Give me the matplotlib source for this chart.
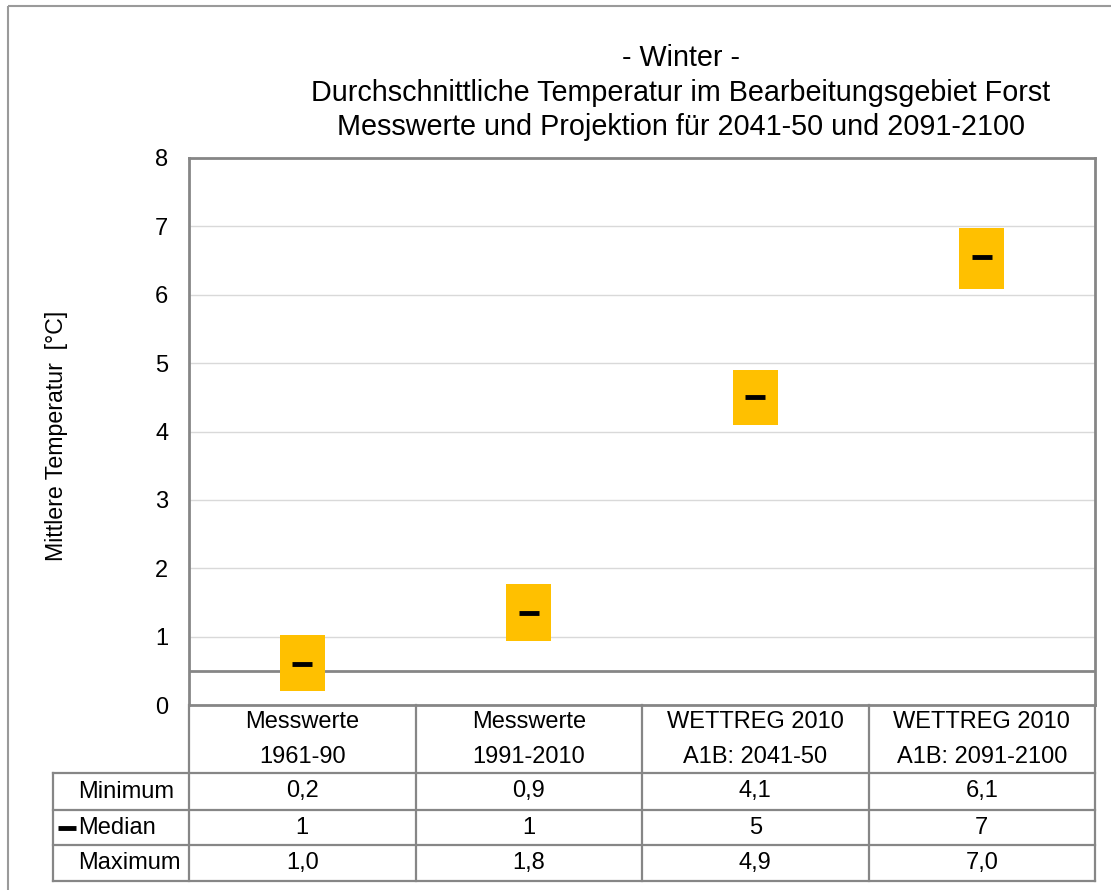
import numpy as np
import matplotlib.pyplot as plt
from matplotlib.patches import Rectangle

plt.rcParams['font.family'] = ['Liberation Sans', 'DejaVu Sans']

categories = ["Messwerte\n1961-90", "Messwerte\n1991-2010",
              "WETTREG 2010\nA1B: 2041-50", "WETTREG 2010\nA1B: 2091-2100"]
t_min = [0.2, 0.94, 4.1, 6.08]
t_median = [0.6, 1.35, 4.5, 6.55]
t_max = [1.02, 1.77, 4.9, 6.98]
min_labels = ["0,2", "0,9", "4,1", "6,1"]
median_labels = ["1", "1", "5", "7"]
max_labels = ["1,0", "1,8", "4,9", "7,0"]
axis_line = 0.5

W, H = 1111, 890
fig = plt.figure(figsize=(W / 100, H / 100), dpi=100)

# plot area in pixels
L, R, T, B = 189, 1095, 158, 705
ax = fig.add_axes([L / W, 1 - B / H, (R - L) / W, (B - T) / H])

x = np.arange(len(categories))
ax.bar(x, np.array(t_max) - np.array(t_min), bottom=t_min, width=0.2,
       color="#FFC000", zorder=3)
ax.plot(x, t_median, ls="none", marker="_", ms=15, mew=3.5, color="black", zorder=4)
ax.axhline(axis_line, color="#868686", lw=2, zorder=2)

ax.set_xlim(-0.5, 3.5)
ax.set_ylim(0, 8)
ax.set_yticks(range(9))
ax.set_xticks([])
ax.tick_params(axis="y", length=0, pad=15, labelsize=17)
ax.grid(axis="y", color="#D9D9D9", lw=1, zorder=0)
for s in ax.spines.values():
    s.set_color("#868686")
    s.set_linewidth(2)

# overlay in pixel coordinates for title, frame and data table
ov = fig.add_axes([0, 0, 1, 1], facecolor="none")
ov.set_xlim(0, W)
ov.set_ylim(H, 0)
ov.axis("off")

ov.add_patch(Rectangle((8, 6), W + 20, H + 20, fill=False, ec="#9a9a9a", lw=1.5))

for yy, txt in zip([58, 93, 127], ["- Winter -",
                                   "Durchschnittliche Temperatur im Bearbeitungsgebiet Forst",
                                   "Messwerte und Projektion für 2041-50 und 2091-2100"]):
    ov.text(681, yy, txt, ha="center", va="center", fontsize=20.7)

ov.text(57, 436, "Mittlere Temperatur  [°C]", rotation=90, ha="center", va="center",
        fontsize=16.7)

# table
gc = "#868686"
col_x = [ax.transData.transform((xx, 0))[0] for xx in np.arange(-0.5, 4, 1)]
rows_y = [B, 773, 810, 845, 881]
lab_x0 = 53
fs = 17
for cx in col_x:
    ov.plot([cx, cx], [B, rows_y[-1]], color=gc, lw=1.6)
ov.plot([lab_x0, lab_x0], [rows_y[1], rows_y[-1]], color=gc, lw=1.6)
for ry in rows_y[1:]:
    ov.plot([lab_x0, col_x[-1]], [ry, ry], color=gc, lw=1.6)

for i, cat in enumerate(categories):
    cx = (col_x[i] + col_x[i + 1]) / 2
    l1, l2 = cat.split("\n")
    ov.text(cx, 722, l1, ha="center", va="center", fontsize=fs)
    ov.text(cx, 757, l2, ha="center", va="center", fontsize=fs)
    for j, vals in enumerate([min_labels, median_labels, max_labels]):
        ov.text(cx, (rows_y[j + 1] + rows_y[j + 2]) / 2, vals[i], ha="center",
                va="center", fontsize=fs)

for j, name in enumerate(["Minimum", "Median", "Maximum"]):
    ov.text(78, (rows_y[j + 1] + rows_y[j + 2]) / 2, name, ha="left", va="center",
            fontsize=fs)
ov.plot([67], [(rows_y[2] + rows_y[3]) / 2], marker="_", ms=13, mew=3.5, color="black")

fig.savefig("out.png", dpi=100)
